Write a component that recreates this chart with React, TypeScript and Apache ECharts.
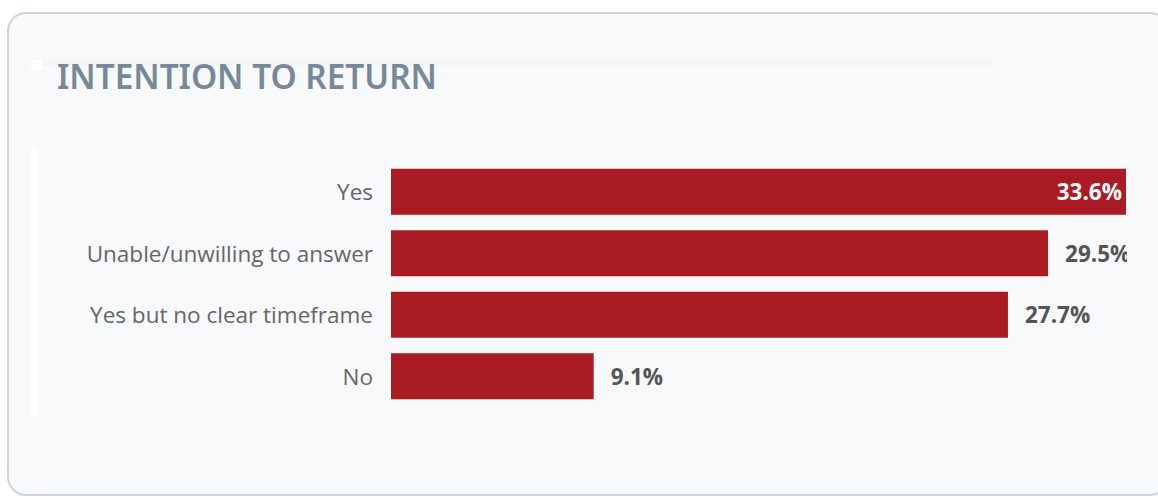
import React, { useEffect, useRef } from "react";
import * as echarts from "echarts";

const categories: string[] = ["Yes", "Unable/unwilling to answer", "Yes but no clear timeframe", "No"];
const values: number[] = [33.6, 29.5, 27.7, 9.1];
const titleText = "INTENTION TO RETURN";

const BAR = "#ab1b23";
const BG = "#f7f9fb";

export default function App() {
  const ref = useRef<HTMLDivElement>(null);
  useEffect(() => {
    if (!ref.current) return;
    const chart = echarts.init(ref.current, null, { renderer: "svg" });
    chart.setOption({
      animation: false,
      backgroundColor: "#ffffff",
      title: {
        text: titleText,
        left: 57,
        top: 59,
        padding: 0,
        textStyle: {
          fontFamily: "Noto Sans",
          fontSize: 33.3,
          fontWeight: 600,
          color: "#778899",
        },
      },
      graphic: [
        {
          type: "rect",
          z: -10,
          shape: { x: 8, y: 13, width: 1160, height: 482, r: 18 },
          style: { fill: BG, stroke: "#cdd5dc", lineWidth: 2 },
        },
        {
          type: "rect",
          z: -9,
          shape: { x: 31, y: 60, width: 962, height: 6 },
          style: { fill: "#f3f5f7" },
        },
        {
          type: "rect",
          z: -8,
          shape: { x: 31, y: 60, width: 12, height: 10 },
          style: { fill: "#ffffff" },
        },
        {
          type: "rect",
          z: -8,
          shape: { x: 31, y: 148, width: 6, height: 269 },
          style: { fill: "#ffffff" },
        },
        {
          type: "rect",
          z: 100,
          shape: { x: 1127, y: 150, width: 31, height: 270 },
          style: { fill: BG },
        },
      ],
      grid: { left: 391, right: 32, top: 161, bottom: 89, containLabel: false },
      xAxis: {
        type: "value",
        min: 0,
        max: 33,
        show: false,
      },
      yAxis: {
        type: "category",
        inverse: true,
        data: categories,
        axisLine: { show: false },
        axisTick: { show: false },
        splitLine: { show: false },
        axisLabel: {
          fontFamily: "Open Sans",
          fontSize: 22.5,
          color: "#666666",
          margin: 18,
        },
      },
      series: [
        {
          type: "bar",
          clip: true,
          barCategoryGap: "25%",
          itemStyle: { color: BAR },
          data: values.map((v, i) => ({
            value: v,
            label:
              i === 0
                ? { position: "insideRight", color: "#ffffff", distance: 4 }
                : { position: "right", color: "#555555", distance: 17 },
          })),
          label: {
            show: true,
            fontFamily: "Open Sans",
            fontSize: 22.5,
            fontWeight: "bold",
            formatter: (p: any) => `${p.value.toFixed(1)}%`,
          },
        },
      ],
    });
    return () => chart.dispose();
  }, []);
  return (
    <div
      ref={ref}
      style={{ position: "fixed", left: 0, top: 0, width: 1158, height: 496 }}
    />
  );
}
